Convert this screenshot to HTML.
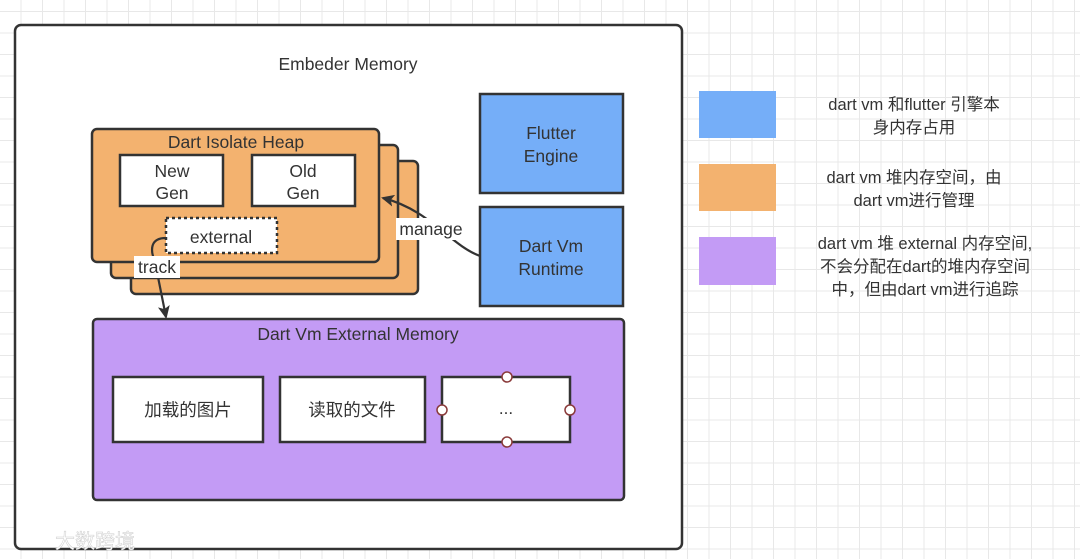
<!DOCTYPE html>
<html><head><meta charset="utf-8"><style>
html,body{margin:0;padding:0;width:1080px;height:559px;overflow:hidden;background:#fff;}
body{background-image:linear-gradient(#e8e8e8 1px,transparent 1px),linear-gradient(90deg,#e8e8e8 1px,transparent 1px);background-size:21.5px 21.5px;background-position:-1px 11px;}
svg{position:absolute;left:0;top:0}
text{font-family:"Liberation Sans","Noto Sans CJK SC",sans-serif;fill:#333;}
</style></head><body>
<svg width="1080" height="559" viewBox="0 0 1080 559">
<defs><marker id="ah" markerWidth="14" markerHeight="14" refX="11" refY="6" orient="auto" markerUnits="userSpaceOnUse"><path d="M0,0 L13,6 L0,12 L3,6 Z" fill="#333"/></marker></defs>
<rect x="15" y="25" width="667" height="524" rx="6" fill="#fff" stroke="#333" stroke-width="2.5"/>
<text x="348" y="70" font-size="17.5" text-anchor="middle">Embeder Memory</text>
<rect x="131" y="161" width="287" height="133" rx="5" fill="#f3b26f" stroke="#333" stroke-width="2.5"/>
<rect x="111" y="145" width="287" height="133" rx="5" fill="#f3b26f" stroke="#333" stroke-width="2.5"/>
<rect x="92" y="129" width="287" height="133" rx="5" fill="#f3b26f" stroke="#333" stroke-width="2.5"/>
<text x="236" y="148" font-size="17.5" text-anchor="middle">Dart Isolate Heap</text>
<rect x="120" y="155" width="103" height="51" fill="#fff" stroke="#333" stroke-width="2.5"/>
<text x="172" y="177" font-size="17.5" text-anchor="middle">New</text><text x="172" y="199" font-size="17.5" text-anchor="middle">Gen</text>
<rect x="252" y="155" width="103" height="51" fill="#fff" stroke="#333" stroke-width="2.5"/>
<text x="303" y="177" font-size="17.5" text-anchor="middle">Old</text><text x="303" y="199" font-size="17.5" text-anchor="middle">Gen</text>
<rect x="166" y="218" width="111" height="35" fill="#fff" stroke="#333" stroke-width="2.5" stroke-dasharray="3,3"/>
<text x="221" y="243" font-size="17.5" text-anchor="middle">external</text>
<path d="M166,238 C150,238 150,250 155,262 L166,317" fill="none" stroke="#333" stroke-width="2.2" marker-end="url(#ah)"/>
<rect x="134" y="256" width="46" height="22" fill="#fff"/>
<text x="157" y="273" font-size="17.5" text-anchor="middle">track</text>
<path d="M480,256 C450,245 430,210 383,198" fill="none" stroke="#333" stroke-width="2.2" marker-end="url(#ah)"/>
<rect x="396" y="218" width="70" height="22" fill="#fff"/>
<text x="431" y="235" font-size="17.5" text-anchor="middle">manage</text>
<rect x="480" y="94" width="143" height="99" fill="#75aef8" stroke="#333" stroke-width="2.5"/>
<text x="551" y="139" font-size="17.5" text-anchor="middle">Flutter</text><text x="551" y="162" font-size="17.5" text-anchor="middle">Engine</text>
<rect x="480" y="207" width="143" height="99" fill="#75aef8" stroke="#333" stroke-width="2.5"/>
<text x="551" y="252" font-size="17.5" text-anchor="middle">Dart Vm</text><text x="551" y="275" font-size="17.5" text-anchor="middle">Runtime</text>
<rect x="93" y="319" width="531" height="181" rx="4" fill="#c39bf5" stroke="#333" stroke-width="2.5"/>
<text x="358" y="340" font-size="17.5" text-anchor="middle">Dart Vm External Memory</text>
<rect x="113" y="377" width="150" height="65" fill="#fff" stroke="#333" stroke-width="2.5"/>
<text x="188" y="416" font-size="17.5" text-anchor="middle">加载的图片</text>
<rect x="280" y="377" width="145" height="65" fill="#fff" stroke="#333" stroke-width="2.5"/>
<text x="352" y="416" font-size="17.5" text-anchor="middle">读取的文件</text>
<rect x="442" y="377" width="128" height="65" fill="#fff" stroke="#333" stroke-width="2.5"/>
<text x="506" y="414" font-size="17" text-anchor="middle">...</text>
<g fill="#fff" stroke="#8a3a3a" stroke-width="1.5">
<circle cx="507" cy="377" r="5"/><circle cx="507" cy="442" r="5"/><circle cx="442" cy="410" r="5"/><circle cx="570" cy="410" r="5"/></g>
<rect x="699" y="91" width="77" height="47" fill="#75aef8"/>
<rect x="699" y="164" width="77" height="47" fill="#f3b26f"/>
<rect x="699" y="237" width="77" height="48" fill="#c39bf5"/>
<g font-size="16.5" text-anchor="middle">
<text x="914" y="110">dart vm 和flutter 引擎本</text><text x="914" y="133">身内存占用</text>
<text x="914" y="183">dart vm 堆内存空间，由</text><text x="914" y="206">dart vm进行管理</text>
<text x="925" y="249">dart vm 堆 external 内存空间,</text><text x="925" y="272">不会分配在dart的堆内存空间</text><text x="925" y="295">中，但由dart vm进行追踪</text>
</g>
<text x="55" y="548" font-size="20" style="fill:#fff;stroke:#ccc;stroke-width:0.5">大数跨境</text>
</svg>
</body></html>
